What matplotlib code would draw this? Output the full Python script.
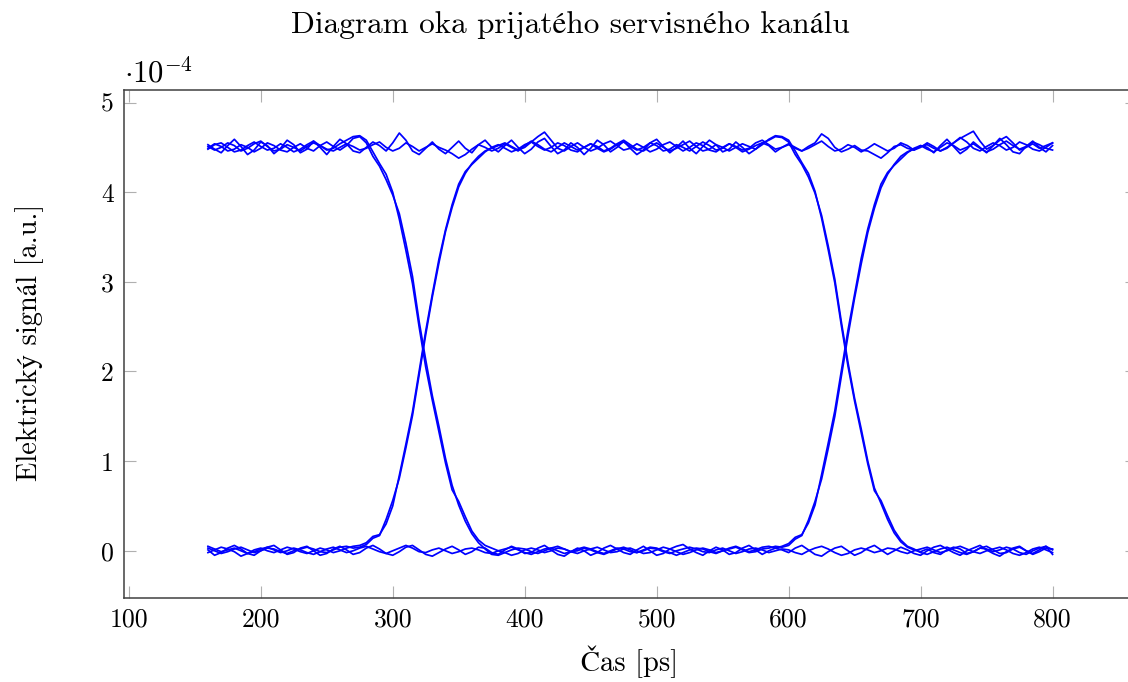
import numpy as np
import matplotlib
matplotlib.use("Agg")
import matplotlib.pyplot as plt

# ---------------- data (values in units of 1e-4, sampled every 5 ps from 160 ps) ----------------
t_start_ps = 160
t_step_ps = 5

trace_111 = [4.53, 4.48, 4.44, 4.52, 4.59, 4.51, 4.42, 4.47, 4.56, 4.52, 4.43, 4.49, 4.58, 4.53, 4.44, 4.48, 4.57, 4.50, 4.42, 4.51, 4.59, 4.54, 4.46, 4.44,
             4.50, 4.56, 4.52, 4.46, 4.55, 4.66, 4.58, 4.46, 4.42, 4.49, 4.56, 4.48, 4.43, 4.50, 4.57, 4.49, 4.44, 4.53, 4.58, 4.50, 4.45,
             4.52, 4.58, 4.50, 4.43, 4.48, 4.56, 4.60, 4.51, 4.43, 4.47, 4.55, 4.50, 4.42, 4.49, 4.58, 4.53, 4.45, 4.50, 4.57, 4.49, 4.42, 4.47, 4.55, 4.59, 4.51, 4.44, 4.50, 4.57, 4.49, 4.43, 4.51, 4.58, 4.53, 4.45, 4.48, 4.56, 4.50, 4.43, 4.48, 4.55, 4.52, 4.45, 4.50,
             4.53, 4.49, 4.46, 4.51, 4.55, 4.65, 4.60, 4.50, 4.45, 4.48, 4.52, 4.47, 4.46, 4.42, 4.38, 4.44, 4.51, 4.53, 4.49, 4.47, 4.52,
             4.50, 4.44, 4.52, 4.59, 4.51, 4.43, 4.48, 4.56, 4.50, 4.44, 4.52, 4.60, 4.53, 4.45, 4.43, 4.51, 4.57, 4.50, 4.45, 4.52]

trace_110 = [4.48, 4.53, 4.55, 4.50, 4.45, 4.47, 4.52, 4.56, 4.51, 4.47, 4.49, 4.54, 4.50, 4.45, 4.48, 4.53, 4.57, 4.52, 4.48, 4.46, 4.50, 4.54, 4.51, 4.47,
             4.49, 4.53, 4.56, 4.50, 4.46, 4.49, 4.55, 4.51, 4.46, 4.50, 4.54, 4.50, 4.47, 4.43, 4.38, 4.42, 4.48, 4.53, 4.50, 4.46, 4.49,
             4.54, 4.50, 4.46, 4.52, 4.57, 4.53, 4.48, 4.45, 4.50, 4.55, 4.51, 4.47, 4.50, 4.54, 4.49, 4.45, 4.48, 4.53, 4.56, 4.51, 4.47, 4.50, 4.55, 4.52, 4.46, 4.48, 4.53, 4.50, 4.46, 4.51, 4.56, 4.52, 4.47, 4.49, 4.54, 4.50, 4.45, 4.48, 4.52, 4.55, 4.58, 4.62, 4.61,
             4.56, 4.42, 4.31, 4.17, 3.99, 3.74, 3.40, 3.03, 2.55, 2.10, 1.70, 1.36, 1.00, 0.70, 0.53, 0.35, 0.20, 0.10, 0.04, 0.01, -0.01,
             0.02, -0.02, -0.04, 0.01, 0.04, 0.02, -0.03, -0.01, 0.03, 0.05, 0.01, -0.03, -0.02, 0.02, 0.04, 0.00, -0.04, -0.01, 0.03, 0.02]

trace_101 = [4.51, 4.47, 4.50, 4.55, 4.52, 4.46, 4.49, 4.54, 4.57, 4.51, 4.46, 4.48, 4.53, 4.50, 4.46, 4.51, 4.55, 4.52, 4.47, 4.49, 4.54, 4.58, 4.62, 4.63,
             4.58, 4.45, 4.32, 4.20, 4.00, 3.70, 3.35, 2.98, 2.50, 2.05, 1.68, 1.33, 0.98, 0.68, 0.55, 0.38, 0.22, 0.12, 0.06, 0.03, 0.00,
             -0.02, -0.05, -0.03, 0.01, 0.03, 0.01, -0.02, 0.00, 0.03, 0.02, -0.01, -0.03, 0.00, 0.02, 0.04, 0.01, -0.02, -0.01, 0.02, 0.03, 0.00, -0.03, -0.02, 0.01, 0.04, 0.02, -0.01, -0.04, -0.02, 0.01, 0.03, 0.01, -0.02, 0.00, 0.02, 0.04, 0.01, -0.02, -0.01, 0.02, 0.03, 0.05, 0.04,
             0.06, 0.13, 0.17, 0.34, 0.55, 0.80, 1.14, 1.50, 1.95, 2.40, 2.82, 3.20, 3.55, 3.82, 4.05, 4.20, 4.31, 4.40, 4.45, 4.48, 4.51,
             4.53, 4.49, 4.46, 4.50, 4.55, 4.61, 4.56, 4.49, 4.46, 4.51, 4.55, 4.52, 4.47, 4.50, 4.56, 4.53, 4.48, 4.46, 4.50, 4.55]

trace_100 = [4.49, 4.54, 4.51, 4.46, 4.48, 4.53, 4.50, 4.45, 4.49, 4.55, 4.52, 4.47, 4.45, 4.50, 4.54, 4.49, 4.46, 4.52, 4.56, 4.51, 4.47, 4.52, 4.60, 4.62,
             4.55, 4.40, 4.29, 4.14, 3.97, 3.76, 3.43, 3.06, 2.56, 2.13, 1.73, 1.39, 1.03, 0.73, 0.51, 0.33, 0.19, 0.09, 0.02, -0.04, -0.05,
             -0.02, 0.01, 0.03, 0.02, -0.01, -0.03, 0.00, 0.03, 0.05, 0.02, -0.01, 0.00, 0.03, 0.01, -0.02, -0.04, -0.01, 0.02, 0.04, 0.01, -0.02, 0.00, 0.03, 0.02, -0.01, -0.03, 0.00, 0.02, 0.04, 0.02, -0.01, -0.02, 0.01, 0.03, 0.00, -0.03, -0.01, 0.02, 0.03, 0.01, -0.02, 0.00, 0.02,
             0.01, -0.02, -0.04, 0.00, 0.03, 0.05, 0.02, -0.02, -0.05, -0.03, 0.01, 0.03, 0.01, -0.02, 0.00, 0.03, 0.02, -0.01, -0.03, 0.00, 0.02,
             0.04, 0.01, -0.02, 0.00, 0.03, 0.05, 0.02, -0.01, -0.03, 0.00, 0.02, 0.04, 0.01, -0.03, -0.05, -0.02, 0.02, 0.04, 0.01, -0.02]

trace_011 = [0.03, 0.00, -0.03, -0.01, 0.02, 0.04, 0.01, -0.02, 0.00, 0.03, 0.02, -0.01, -0.03, 0.00, 0.02, 0.04, 0.02, -0.01, -0.02, 0.01, 0.04, 0.05, 0.03, 0.04,
             0.07, 0.14, 0.17, 0.35, 0.56, 0.81, 1.15, 1.51, 1.96, 2.41, 2.83, 3.21, 3.56, 3.83, 4.06, 4.21, 4.32, 4.40, 4.46, 4.49, 4.52,
             4.55, 4.51, 4.47, 4.50, 4.56, 4.62, 4.67, 4.58, 4.49, 4.46, 4.51, 4.55, 4.50, 4.46, 4.49, 4.54, 4.57, 4.52, 4.47, 4.49, 4.54, 4.50, 4.45, 4.48, 4.53, 4.56, 4.51, 4.46, 4.50, 4.55, 4.52, 4.47, 4.45, 4.50, 4.54, 4.51, 4.47, 4.49, 4.55, 4.58, 4.53, 4.48, 4.50,
             4.54, 4.50, 4.46, 4.49, 4.53, 4.57, 4.51, 4.46, 4.48, 4.53, 4.50, 4.45, 4.49, 4.54, 4.50, 4.46, 4.49, 4.55, 4.52, 4.47, 4.50,
             4.55, 4.51, 4.46, 4.49, 4.55, 4.60, 4.64, 4.68, 4.57, 4.48, 4.52, 4.58, 4.62, 4.55, 4.47, 4.50, 4.54, 4.49, 4.52, 4.55]

trace_010 = [-0.02, 0.01, 0.04, 0.02, -0.01, -0.06, -0.03, 0.01, 0.03, 0.00, -0.02, 0.01, 0.04, 0.02, -0.01, -0.03, 0.00, 0.03, 0.01, -0.02, 0.00, 0.03, 0.05, 0.06,
             0.09, 0.16, 0.18, 0.30, 0.50, 0.84, 1.19, 1.55, 2.00, 2.45, 2.86, 3.25, 3.58, 3.86, 4.09, 4.23, 4.31, 4.38, 4.45, 4.50, 4.53,
             4.49, 4.45, 4.48, 4.53, 4.56, 4.51, 4.47, 4.50, 4.55, 4.52, 4.47, 4.45, 4.50, 4.54, 4.51, 4.46, 4.49, 4.54, 4.58, 4.53, 4.48, 4.46, 4.51, 4.55, 4.50, 4.46, 4.49, 4.53, 4.57, 4.51, 4.46, 4.48, 4.53, 4.50, 4.46, 4.50, 4.54, 4.51, 4.48, 4.53, 4.59, 4.63, 4.62,
             4.58, 4.46, 4.33, 4.21, 4.01, 3.71, 3.36, 2.99, 2.51, 2.06, 1.67, 1.32, 0.97, 0.67, 0.56, 0.39, 0.23, 0.12, 0.05, 0.02, -0.02,
             -0.04, -0.01, 0.02, 0.04, 0.01, -0.02, -0.04, -0.01, 0.03, 0.02, -0.01, 0.01, 0.04, 0.02, -0.02, -0.04, 0.00, 0.03, 0.05, 0.01]

trace_001 = [0.05, 0.02, -0.01, 0.01, 0.03, 0.00, -0.03, -0.01, 0.02, 0.04, 0.01, -0.02, 0.00, 0.03, 0.01, -0.02, -0.04, -0.01, 0.02, 0.04, 0.01, -0.02, 0.00, 0.03,
             0.05, 0.02, -0.01, -0.03, 0.00, 0.03, 0.06, 0.03, -0.01, -0.02, 0.01, 0.03, 0.00, -0.03, -0.01, 0.02, 0.03, 0.01, -0.02, -0.03, 0.00,
             0.02, 0.04, 0.01, -0.02, -0.04, -0.01, 0.02, 0.03, 0.00, -0.03, -0.01, 0.02, 0.04, 0.02, -0.01, -0.03, 0.00, 0.03, 0.02, -0.01, -0.02, 0.01, 0.04, 0.03, 0.00, -0.02, -0.05, -0.02, 0.01, 0.03, 0.02, -0.01, -0.03, 0.00, 0.03, 0.05, 0.02, -0.01, 0.01, 0.04, 0.05, 0.03, 0.05,
             0.08, 0.15, 0.18, 0.31, 0.51, 0.85, 1.20, 1.56, 2.01, 2.46, 2.86, 3.26, 3.59, 3.86, 4.09, 4.22, 4.30, 4.37, 4.44, 4.49, 4.52,
             4.48, 4.45, 4.50, 4.55, 4.52, 4.47, 4.50, 4.54, 4.49, 4.45, 4.48, 4.53, 4.57, 4.52, 4.48, 4.51, 4.56, 4.53, 4.49, 4.47]

trace_000 = [0.01, -0.05, -0.02, 0.03, 0.06, 0.02, -0.03, -0.05, 0.00, 0.04, 0.06, 0.01, -0.04, -0.02, 0.03, 0.05, 0.00, -0.05, -0.03, 0.02, 0.05, 0.01, -0.04, -0.02,
             0.03, 0.06, 0.02, -0.03, -0.05, -0.01, 0.04, 0.06, 0.01, -0.04, -0.06, -0.02, 0.02, 0.05, 0.01, -0.04, -0.01, 0.04, 0.03, -0.02, -0.04,
             0.01, 0.05, 0.02, -0.03, -0.02, 0.03, 0.06, 0.01, -0.04, -0.06, -0.01, 0.03, 0.00, -0.05, -0.02, 0.03, 0.06, 0.02, -0.02, -0.04, 0.01, 0.05, 0.00, -0.05, -0.03, 0.02, 0.05, 0.07, 0.02, -0.02, -0.05, 0.00, 0.04, 0.01, -0.04, -0.02, 0.03, 0.06, 0.01, -0.04, 0.00, 0.03, 0.01,
             -0.02, 0.03, 0.06, 0.01, -0.04, -0.06, -0.01, 0.03, 0.05, 0.00, -0.05, -0.02, 0.03, 0.06, 0.01, -0.04, 0.00, 0.04, 0.01, -0.03, -0.05,
             0.00, 0.04, 0.06, 0.02, -0.02, -0.05, 0.00, 0.03, 0.06, 0.01, -0.03, -0.06, -0.01, 0.03, 0.05, 0.00, -0.03, 0.01, 0.05, -0.04]

traces = [trace_111, trace_110, trace_101, trace_100, trace_011, trace_010, trace_001, trace_000]

x_ticks = [100, 200, 300, 400, 500, 600, 700, 800]
y_ticks = [0, 1, 2, 3, 4, 5]

title_text = "Diagram oka prijatého servisného kanálu"
x_label = "Čas [ps]"
y_label = "Elektrický signál [a.u.]"

# ---------------- style ----------------
plt.rcParams['font.family'] = ['cmr10', 'STIXGeneral', 'DejaVu Serif']
plt.rcParams['mathtext.fontset'] = 'cm'
plt.rcParams['axes.formatter.use_mathtext'] = True

W, H = 1128, 682
fig = plt.figure(figsize=(W / 100, H / 100), dpi=100)
ax = fig.add_axes([123.5 / W, 1 - 598.3 / H, (1137 - 123.5) / W, (598.3 - 90) / H])

for tr in traces:
    t = t_start_ps + t_step_ps * np.arange(len(tr))
    ax.plot(t, tr, color='#0000ff', lw=1.25, solid_joinstyle='round')

ax.set_xlim(96, 864)
ax.set_ylim(-0.53, 5.14)
ax.set_xticks(x_ticks)
ax.set_yticks(y_ticks)
ax.set_xticklabels([str(v) for v in x_ticks])
ax.set_yticklabels([str(v) for v in y_ticks])

ax.tick_params(direction='in', length=8.5, width=0.8, color='#b0b0b0',
               top=True, right=True, labelsize=18.5, pad=7)
for sp in ax.spines.values():
    sp.set_color('#404040')
    sp.set_linewidth(1.1)

fig.text(124 / W, 1 - 73 / H, r'$\cdot 10^{-4}$', fontsize=22, ha='left', va='center')
fig.text(570 / W, 1 - 25 / H, title_text, fontsize=22.5, ha='center', va='center')
fig.text(630 / W, 1 - 662 / H, x_label, fontsize=20.5, ha='center', va='center')
fig.text(30 / W, 1 - 342 / H, y_label, fontsize=20.5, ha='center', va='center', rotation=90)

fig.savefig('out.png', dpi=100)
